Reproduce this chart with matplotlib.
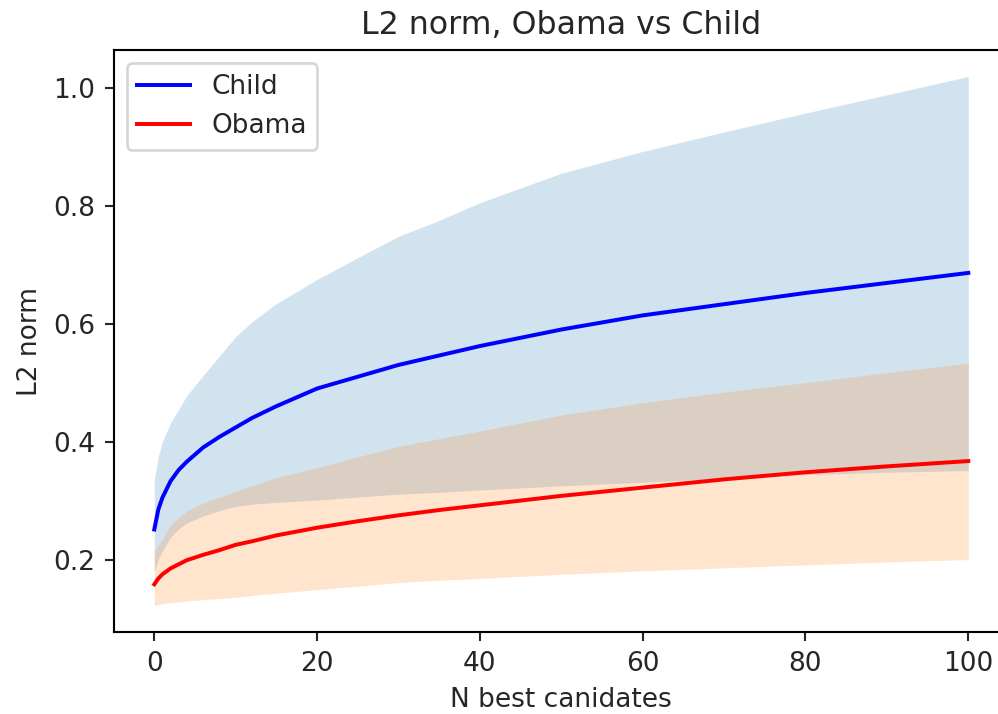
import matplotlib
matplotlib.use("Agg")
import matplotlib.pyplot as plt
import numpy as np

# N best candidates (sample points)
n_best = [0, 0.5, 1, 2, 3, 4, 6, 8, 10, 12, 15, 20, 25, 30, 35, 40, 50, 60, 70, 80, 90, 100]

child_mean = [0.251, 0.285, 0.305, 0.333, 0.352, 0.366, 0.390, 0.408, 0.424, 0.440, 0.460, 0.490,
              0.510, 0.530, 0.546, 0.562, 0.590, 0.614, 0.633, 0.652, 0.669, 0.686]
child_upper = [0.335, 0.375, 0.400, 0.432, 0.455, 0.478, 0.512, 0.545, 0.578, 0.603, 0.634, 0.675,
               0.712, 0.748, 0.775, 0.805, 0.855, 0.892, 0.925, 0.957, 0.988, 1.019]
child_lower = [0.180, 0.200, 0.215, 0.238, 0.252, 0.262, 0.274, 0.283, 0.290, 0.294, 0.297, 0.301,
               0.306, 0.311, 0.314, 0.318, 0.325, 0.331, 0.338, 0.344, 0.348, 0.351]

obama_mean = [0.158, 0.168, 0.175, 0.185, 0.192, 0.199, 0.208, 0.216, 0.225, 0.231, 0.241, 0.254,
              0.265, 0.275, 0.284, 0.292, 0.308, 0.322, 0.336, 0.348, 0.358, 0.367]
obama_upper = [0.215, 0.224, 0.235, 0.258, 0.272, 0.282, 0.296, 0.306, 0.316, 0.325, 0.339, 0.356,
               0.374, 0.392, 0.405, 0.418, 0.445, 0.466, 0.484, 0.500, 0.517, 0.533]
obama_lower = [0.122, 0.124, 0.125, 0.127, 0.128, 0.130, 0.132, 0.134, 0.136, 0.139, 0.143, 0.149,
               0.155, 0.161, 0.165, 0.168, 0.175, 0.181, 0.186, 0.191, 0.196, 0.200]

text_col = "#262626"
plt.rcParams["text.color"] = text_col
plt.rcParams["axes.labelcolor"] = text_col
plt.rcParams["xtick.color"] = text_col
plt.rcParams["ytick.color"] = text_col

dpi = 190
fig = plt.figure(figsize=(998 / dpi, 714 / dpi), dpi=dpi)
ax = fig.add_axes([0.1138, 0.1148, 0.8972, 0.8151])

ax.fill_between(n_best, child_lower, child_upper, color="C0", alpha=0.2, linewidth=0)
ax.fill_between(n_best, obama_lower, obama_upper, color="C1", alpha=0.2, linewidth=0)
ax.plot(n_best, child_mean, color="b", label="Child", zorder=3)
ax.plot(n_best, obama_mean, color="r", label="Obama", zorder=3)

ax.set_title("L2 norm, Obama vs Child")
ax.set_xlabel("N best canidates")
ax.set_ylabel("L2 norm")
ax.set_xticks([0, 20, 40, 60, 80, 100])
ax.set_yticks([0.2, 0.4, 0.6, 0.8, 1.0])
ax.legend(loc="upper left")

fig.savefig("out.png", dpi=dpi)
